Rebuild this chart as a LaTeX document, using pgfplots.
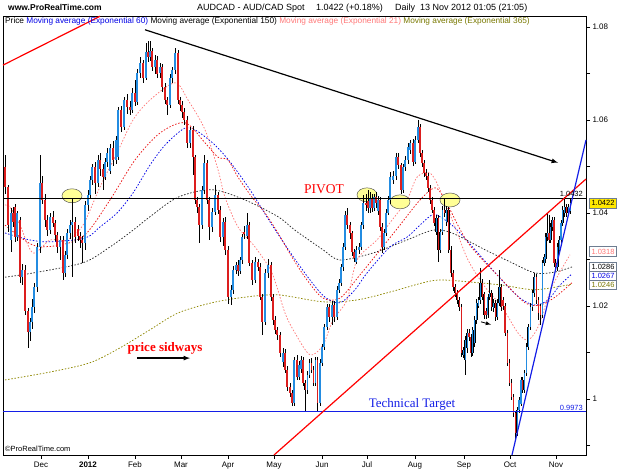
\documentclass[border=0pt]{standalone}
\usepackage{pgfplots}
\pgfplotsset{compat=1.18}
\usepackage{pgfplotstable}
\usepackage{fontspec}
\setmainfont{Liberation Sans}
\newfontfamily\seriffont{Liberation Serif}
\definecolor{cup}{RGB}{35,140,225}
\definecolor{cdn}{RGB}{220,30,30}
\definecolor{ema21}{RGB}{255,120,120}
\definecolor{ema365}{RGB}{120,120,0}
\definecolor{ema60}{RGB}{0,0,230}
\definecolor{ema150}{RGB}{40,40,40}
\definecolor{redma}{RGB}{235,20,20}
\definecolor{lblbox}{RGB}{110,125,145}
\definecolor{ellfill}{RGB}{255,255,150}
\definecolor{tgtblue}{RGB}{20,30,230}
\definecolor{boxyel}{RGB}{255,232,0}

\pgfplotstableread{
x o h l c
11 1.0342 1.0410 1.0316 1.0400
17 1.0348 1.0405 1.0340 1.0400
22 1.0262 1.0290 1.0245 1.0278
30 1.0144 1.0175 1.0125 1.0166
32 1.0166 1.0215 1.0150 1.0198
34 1.0198 1.0250 1.0185 1.0241
37 1.0241 1.0335 1.0230 1.0327
40 1.0327 1.0525 1.0315 1.0465
50 1.0363 1.0400 1.0355 1.0392
60 1.0327 1.0350 1.0300 1.0342
65 1.0271 1.0318 1.0262 1.0310
67 1.0310 1.0365 1.0300 1.0357
70 1.0357 1.0385 1.0345 1.0374
72 1.0374 1.0430 1.0262 1.0381
85 1.0336 1.0425 1.0320 1.0417
88 1.0417 1.0450 1.0405 1.0439
90 1.0439 1.0480 1.0430 1.0471
92 1.0471 1.0505 1.0460 1.0499
98 1.0465 1.0525 1.0455 1.0514
105 1.0477 1.0518 1.0470 1.0510
107 1.0510 1.0540 1.0500 1.0529
110 1.0490 1.0548 1.0485 1.0540
116 1.0514 1.0565 1.0505 1.0557
118 1.0520 1.0628 1.0515 1.0622
124 1.0585 1.0650 1.0578 1.0643
132 1.0622 1.0668 1.0615 1.0658
137 1.0639 1.0710 1.0632 1.0701
140 1.0701 1.0735 1.0690 1.0723
146 1.0690 1.0765 1.0685 1.0746
150 1.0735 1.0770 1.0728 1.0748
155 1.0714 1.0740 1.0700 1.0729
160 1.0700 1.0722 1.0690 1.0714
170 1.0632 1.0698 1.0625 1.0690
172 1.0690 1.0715 1.0680 1.0708
175 1.0708 1.0755 1.0700 1.0744
190 1.0551 1.0585 1.0540 1.0579
202 1.0374 1.0458 1.0365 1.0450
204 1.0450 1.0525 1.0440 1.0508
212 1.0370 1.0410 1.0360 1.0402
215 1.0402 1.0460 1.0395 1.0439
223 1.0348 1.0390 1.0330 1.0381
231 1.0219 1.0245 1.0202 1.0235
233 1.0235 1.0285 1.0225 1.0278
236 1.0278 1.0295 1.0268 1.0288
240 1.0275 1.0305 1.0268 1.0299
242 1.0299 1.0355 1.0290 1.0348
247 1.0350 1.0400 1.0345 1.0374
255 1.0256 1.0305 1.0250 1.0295
265 1.0166 1.0280 1.0160 1.0271
268 1.0271 1.0300 1.0260 1.0288
283 1.0080 1.0110 1.0070 1.0099
294 0.9992 1.0090 0.9985 1.0084
299 1.0047 1.0082 1.0040 1.0073
301 1.0065 1.0092 1.0055 1.0084
307.5 1.0020 1.0060 1.0010 1.0052
309.5 1.0052 1.0085 1.0045 1.0078
315.5 1.0035 1.0090 1.0028 1.0084
320 0.9992 1.0085 0.9985 1.0078
322 1.0078 1.0118 1.0070 1.0112
324 1.0112 1.0162 1.0105 1.0155
327 1.0155 1.0205 1.0148 1.0198
332 1.0176 1.0210 1.0159 1.0202
337 1.0176 1.0242 1.0170 1.0235
339 1.0235 1.0258 1.0228 1.0250
341 1.0250 1.0290 1.0242 1.0284
343 1.0284 1.0335 1.0275 1.0327
345 1.0327 1.0405 1.0320 1.0396
356 1.0295 1.0328 1.0290 1.0321
359 1.0321 1.0335 1.0312 1.0327
361 1.0327 1.0380 1.0320 1.0374
363 1.0374 1.0439 1.0365 1.0422
370 1.0411 1.0445 1.0400 1.0432
374 1.0411 1.0442 1.0405 1.0434
378 1.0405 1.0436 1.0396 1.0428
384 1.0327 1.0365 1.0320 1.0357
386 1.0357 1.0408 1.0350 1.0400
388 1.0400 1.0436 1.0395 1.0428
390 1.0428 1.0488 1.0420 1.0477
393 1.0470 1.0490 1.0462 1.0480
396 1.0480 1.0530 1.0472 1.0520
403 1.0450 1.0505 1.0442 1.0499
405 1.0499 1.0522 1.0490 1.0514
408 1.0514 1.0550 1.0505 1.0542
410 1.0535 1.0558 1.0528 1.0551
415 1.0510 1.0565 1.0505 1.0557
418 1.0557 1.0600 1.0550 1.0585
436.1 1.0360 1.0396 1.0353 1.0389
440.3 1.0321 1.0366 1.0315 1.0359
442.5 1.0359 1.0415 1.0352 1.0407
446.7 1.0380 1.0415 1.0372 1.0407
463.4 1.0095 1.0112 1.0088 1.0106
465.3 1.0084 1.0135 1.0052 1.0127
467.2 1.0110 1.0150 1.0100 1.0142
472.8 1.0099 1.0156 1.0092 1.0149
474.7 1.0120 1.0178 1.0112 1.0170
476.6 1.0170 1.0215 1.0162 1.0207
478.5 1.0200 1.0220 1.0195 1.0213
480.4 1.0213 1.0282 1.0205 1.0250
487.9 1.0181 1.0226 1.0175 1.0219
489.8 1.0219 1.0255 1.0212 1.0228
493.6 1.0195 1.0215 1.0188 1.0207
497.3 1.0176 1.0215 1.0170 1.0207
499.2 1.0207 1.0278 1.0200 1.0241
517.2 0.9927 0.9983 0.9920 0.9977
519 0.9977 1.0005 0.9970 0.9998
521 0.9990 1.0048 0.9985 1.0041
524.5 1.0020 1.0062 1.0012 1.0056
526.5 1.0056 1.0120 1.0050 1.0112
528.3 1.0112 1.0162 1.0105 1.0155
530.5 1.0155 1.0206 1.0148 1.0198
532.5 1.0198 1.0235 1.0190 1.0228
534.3 1.0228 1.0270 1.0220 1.0262
542.5 1.0180 1.0300 1.0175 1.0293
544.2 1.0293 1.0312 1.0285 1.0305
545.8 1.0300 1.0356 1.0292 1.0348
547.4 1.0348 1.0400 1.0340 1.0357
550.6 1.0342 1.0378 1.0335 1.0370
552.3 1.0370 1.0392 1.0362 1.0385
557.6 1.0284 1.0335 1.0276 1.0327
559.3 1.0320 1.0350 1.0312 1.0342
561 1.0342 1.0386 1.0335 1.0379
562.8 1.0379 1.0415 1.0372 1.0407
564.6 1.0400 1.0435 1.0392 1.0413
568.2 1.0400 1.0420 1.0395 1.0413
570.5 1.0405 1.0430 1.0398 1.0422
}\up

\pgfplotstableread{
x o h l c
5 1.0500 1.0525 1.0440 1.0456
8 1.0456 1.0460 1.0360 1.0374
13 1.0400 1.0412 1.0370 1.0381
15 1.0413 1.0420 1.0338 1.0348
20 1.0385 1.0392 1.0250 1.0262
25 1.0278 1.0288 1.0180 1.0190
28 1.0190 1.0195 1.0110 1.0144
42 1.0465 1.0480 1.0420 1.0428
45 1.0428 1.0440 1.0370 1.0385
47 1.0385 1.0395 1.0350 1.0363
53 1.0392 1.0405 1.0370 1.0379
55 1.0379 1.0385 1.0340 1.0353
57 1.0353 1.0360 1.0315 1.0327
63 1.0342 1.0350 1.0256 1.0271
75 1.0381 1.0392 1.0335 1.0348
78 1.0365 1.0375 1.0340 1.0350
80 1.0350 1.0360 1.0325 1.0342
82 1.0342 1.0350 1.0293 1.0336
95 1.0499 1.0510 1.0440 1.0465
100 1.0514 1.0530 1.0480 1.0495
103 1.0495 1.0505 1.0450 1.0477
113 1.0540 1.0555 1.0500 1.0514
121 1.0622 1.0630 1.0575 1.0585
127 1.0643 1.0655 1.0612 1.0628
130 1.0628 1.0640 1.0610 1.0622
135 1.0658 1.0686 1.0630 1.0639
143 1.0723 1.0730 1.0680 1.0690
148 1.0746 1.0770 1.0725 1.0735
152 1.0748 1.0755 1.0705 1.0714
157 1.0729 1.0738 1.0690 1.0700
162 1.0714 1.0720 1.0660 1.0671
165 1.0671 1.0680 1.0635 1.0643
167 1.0643 1.0650 1.0611 1.0632
178 1.0744 1.0750 1.0635 1.0643
180 1.0643 1.0650 1.0620 1.0632
182 1.0632 1.0640 1.0605 1.0617
184 1.0617 1.0625 1.0590 1.0600
187 1.0600 1.0608 1.0540 1.0551
193 1.0579 1.0588 1.0482 1.0520
195 1.0520 1.0525 1.0420 1.0428
197 1.0428 1.0435 1.0400 1.0413
199 1.0413 1.0420 1.0336 1.0374
207 1.0508 1.0515 1.0420 1.0428
209 1.0428 1.0435 1.0342 1.0370
218 1.0439 1.0445 1.0398 1.0407
220 1.0407 1.0415 1.0338 1.0348
225 1.0381 1.0392 1.0310 1.0321
228 1.0321 1.0330 1.0205 1.0219
238 1.0288 1.0298 1.0265 1.0275
244 1.0360 1.0372 1.0345 1.0355
249 1.0374 1.0380 1.0285 1.0293
252 1.0293 1.0300 1.0245 1.0256
258 1.0295 1.0302 1.0275 1.0285
260 1.0285 1.0292 1.0212 1.0219
262 1.0219 1.0225 1.0138 1.0166
271 1.0288 1.0295 1.0210 1.0219
273 1.0219 1.0225 1.0160 1.0170
275 1.0170 1.0178 1.0140 1.0149
277 1.0149 1.0155 1.0128 1.0138
280 1.0138 1.0145 1.0090 1.0099
285 1.0099 1.0108 1.0055 1.0063
287 1.0063 1.0070 1.0018 1.0026
290 1.0026 1.0035 1.0005 1.0013
292 1.0013 1.0020 0.9985 0.9992
297 1.0084 1.0095 1.0040 1.0047
303 1.0084 1.0090 1.0028 1.0035
305.3 1.0035 1.0042 0.9972 1.0020
311.5 1.0078 1.0088 1.0055 1.0063
313.5 1.0063 1.0070 1.0028 1.0035
317.5 1.0084 1.0090 0.9972 0.9992
329 1.0198 1.0205 1.0165 1.0176
334 1.0202 1.0210 1.0165 1.0176
347 1.0396 1.0410 1.0365 1.0374
350 1.0374 1.0380 1.0345 1.0357
352 1.0357 1.0362 1.0308 1.0316
354 1.0316 1.0322 1.0295 1.0303
366 1.0422 1.0440 1.0405 1.0417
368 1.0425 1.0450 1.0400 1.0411
372 1.0432 1.0440 1.0402 1.0411
376 1.0434 1.0445 1.0410 1.0422
380 1.0428 1.0435 1.0362 1.0370
382 1.0370 1.0378 1.0315 1.0327
398 1.0520 1.0528 1.0495 1.0503
401 1.0503 1.0508 1.0440 1.0450
413 1.0551 1.0560 1.0502 1.0510
420 1.0585 1.0592 1.0520 1.0529
422 1.0529 1.0535 1.0500 1.0508
424 1.0508 1.0515 1.0478 1.0486
426 1.0486 1.0495 1.0470 1.0480
428 1.0480 1.0486 1.0445 1.0454
430 1.0454 1.0460 1.0420 1.0428
432 1.0428 1.0435 1.0400 1.0407
434 1.0407 1.0413 1.0372 1.0379
438.2 1.0389 1.0395 1.0295 1.0321
444.6 1.0407 1.0432 1.0392 1.0400
448.8 1.0407 1.0412 1.0315 1.0321
450.9 1.0321 1.0328 1.0262 1.0271
453.0 1.0271 1.0278 1.0232 1.0241
455.2 1.0241 1.0248 1.0220 1.0228
457.3 1.0228 1.0235 1.0205 1.0213
459.4 1.0213 1.0220 1.0190 1.0198
461.5 1.0198 1.0205 1.0090 1.0099
469.0 1.0142 1.0150 1.0125 1.0133
470.9 1.0133 1.0140 1.0090 1.0099
482.2 1.0250 1.0258 1.0212 1.0219
484.1 1.0225 1.0230 1.0172 1.0181
486.0 1.0190 1.0196 1.0172 1.0181
491.7 1.0228 1.0235 1.0190 1.0198
495.5 1.0207 1.0213 1.0168 1.0176
501.1 1.0241 1.0248 1.0190 1.0198
503.0 1.0213 1.0220 1.0192 1.0200
505 1.0200 1.0206 1.0135 1.0142
507.5 1.0142 1.0148 1.0070 1.0078
509.5 1.0078 1.0085 1.0028 1.0035
511.5 1.0035 1.0042 0.9998 1.0005
513.5 1.0005 1.0010 0.9962 0.9970
515.5 0.9970 0.9975 0.9912 0.9927
522.7 1.0041 1.0048 1.0012 1.0020
536.5 1.0262 1.0268 1.0205 1.0213
538.5 1.0213 1.0220 1.0170 1.0185
540.5 1.0200 1.0205 1.0160 1.0180
549 1.0357 1.0395 1.0335 1.0342
554 1.0385 1.0392 1.0285 1.0293
555.8 1.0293 1.0300 1.0275 1.0284
566.4 1.0413 1.0420 1.0392 1.0400
}\dn

\pgfplotsset{
  wick/.style={draw=none, mark=none, forget plot,
    error bars/.cd, y dir=both, y explicit, error mark=none,
    error bar style={draw=black, line width=0.7pt}},
  bodyk/.style={draw=none, mark=none, forget plot,
    error bars/.cd, y dir=both, y explicit, error mark=none,
    error bar style={draw=black, line width=1.9pt, line cap=butt}},
  bodyc/.style={draw=none, mark=none, forget plot,
    error bars/.cd, y dir=both, y explicit, error mark=none,
    error bar style={draw=#1, line width=1.1pt, line cap=butt}},
  ma/.style={#1, line width=0.75pt, dash pattern=on 1.5pt off 1.7pt, smooth, mark=none, forget plot},
}

\begin{document}
\begin{tikzpicture}
\useasboundingbox (0,0) rectangle (625pt,469pt);
\begin{axis}[
  at={(3pt,14pt)}, anchor=south west,
  scale only axis, width=583pt, height=439pt,
  xmin=3, xmax=586, ymin=0.98796, ymax=1.08236,
  clip=false,
  axis line style={line width=0.8pt},
  xtick={41,88,135,181,228,274,322,367,415,464,510,556},
  xticklabels={Dec,\textbf{2012},Feb,Mar,Apr,May,Jun,Jul,Aug,Sep,Oct,Nov},
  xtick pos=left,
  ytick pos=right, yticklabel pos=right,
  ytick={1,1.02,1.04,1.06,1.08},
  yticklabels={1,1.02,1.04,1.06,1.08},
  minor ytick={0.99,1.01,1.03,1.05,1.07},
  tick align=outside,
  major tick length=4pt, minor tick length=4pt,
  tick style={black, line width=0.6pt},
  tick label style={font=\fontsize{8}{9}\selectfont},
  xticklabel style={yshift=1pt},
  yticklabel style={xshift=-1pt},
]
% moving averages
\addplot[ma=olive] coordinates {(5,1.0041) (50,1.0058) (90,1.0078) (120,1.0110) (150,1.0149) (178,1.0185) (212,1.0207) (245,1.0219) (278,1.0224) (323,1.0209) (357,1.0213) (390,1.0230) (423,1.0250) (440,1.0256) (468,1.0252) (502,1.0245) (535,1.0235) (572,1.0247)};
\addplot[ma=ema150] coordinates {(5,1.0262) (33,1.0271) (83,1.0293) (110,1.0327) (133,1.0363) (150,1.0392) (178,1.0434) (212,1.0450) (245,1.0428) (278,1.0392) (295,1.0363) (323,1.0321) (340,1.0299) (373,1.0314) (407,1.0342) (433,1.0363) (452,1.0357) (485,1.0321) (510,1.0295) (535,1.0271) (555,1.0273) (572,1.0284)};
\addplot[ma=ema60] coordinates {(5,1.0357) (30,1.0342) (50,1.0338) (85,1.0346) (100,1.0370) (117,1.0400) (133,1.0443) (150,1.0503) (165,1.0546) (182,1.0579) (190,1.0583) (200,1.0572) (215,1.0546) (230,1.0510) (250,1.0450) (270,1.0381) (290,1.0316) (310,1.0256) (325,1.0219) (340,1.0207) (355,1.0235) (367,1.0271) (390,1.0327) (407,1.0348) (420,1.0374) (432,1.0396) (440,1.0392) (455,1.0368) (475,1.0321) (500,1.0260) (520,1.0217) (535,1.0202) (548,1.0213) (560,1.0245) (572,1.0269)};
\addplot[ma=redma] coordinates {(5,1.0374) (33,1.0331) (60,1.0331) (85,1.0353) (110,1.0428) (135,1.0514) (160,1.0572) (185,1.0594) (205,1.0551) (218,1.0520) (228,1.0514) (238,1.0477) (252,1.0434) (265,1.0400) (278,1.0357) (292,1.0305) (307,1.0256) (323,1.0217) (340,1.0217) (360,1.0267) (380,1.0320) (400,1.0374) (420,1.0428) (435,1.0454) (445,1.0428) (468,1.0336) (502,1.0256) (525,1.0207) (540,1.0202) (555,1.0219) (572,1.0250)};
\addplot[ma=ema21] coordinates {(5,1.0417) (10,1.0413) (20,1.0374) (33,1.0314) (50,1.0342) (67,1.0342) (83,1.0374) (100,1.0456) (117,1.0529) (133,1.0600) (150,1.0643) (175,1.0680) (188,1.0643) (205,1.0579) (218,1.0493) (225,1.0434) (238,1.0370) (255,1.0327) (272,1.0271) (285,1.0185) (295,1.0142) (310,1.0095) (323,1.0116) (333,1.0170) (347,1.0213) (357,1.0299) (377,1.0342) (390,1.0379) (407,1.0428) (417,1.0477) (430,1.0486) (440,1.0450) (455,1.0370) (468,1.0299) (485,1.0241) (502,1.0198) (518,1.0142) (528,1.0127) (538,1.0155) (552,1.0241) (570,1.0310)};

% ellipses
\filldraw[fill=ellfill, draw=black!65, line width=0.5pt] (axis cs:72,1.0437) ellipse [x radius=10pt, y radius=7pt];
\filldraw[fill=ellfill, draw=black!65, line width=0.5pt] (axis cs:367,1.0439) ellipse [x radius=10pt, y radius=7pt];
\filldraw[fill=ellfill, draw=black!65, line width=0.5pt] (axis cs:400,1.0424) ellipse [x radius=10pt, y radius=7pt];
\filldraw[fill=ellfill, draw=black!65, line width=0.5pt] (axis cs:450,1.0428) ellipse [x radius=10pt, y radius=7pt];

% candles
\addplot[wick] table[x=x, y expr={(\thisrow{h}+\thisrow{l})/2}, y error expr={(\thisrow{h}-\thisrow{l})/2}] \up;
\addplot[wick] table[x=x, y expr={(\thisrow{h}+\thisrow{l})/2}, y error expr={(\thisrow{h}-\thisrow{l})/2}] \dn;
\addplot[bodyk] table[x=x, y expr={(\thisrow{o}+\thisrow{c})/2}, y error expr={abs(\thisrow{c}-\thisrow{o})/2}] \up;
\addplot[bodyk] table[x=x, y expr={(\thisrow{o}+\thisrow{c})/2}, y error expr={abs(\thisrow{c}-\thisrow{o})/2}] \dn;
\addplot[bodyc=cup] table[x=x, y expr={(\thisrow{o}+\thisrow{c})/2}, y error expr={abs(\thisrow{c}-\thisrow{o})/2}] \up;
\addplot[bodyc=cdn] table[x=x, y expr={(\thisrow{o}+\thisrow{c})/2}, y error expr={abs(\thisrow{c}-\thisrow{o})/2}] \dn;

% horizontal levels
\addplot[black, line width=0.8pt, forget plot] coordinates {(3,1.0432) (586,1.0432)};
\addplot[tgtblue, line width=0.8pt, forget plot] coordinates {(3,0.9973) (586,0.9973)};

% trend lines
\addplot[red, line width=1.2pt, forget plot] coordinates {(3,1.0718) (100,1.0823)};
\addplot[red, line width=1.2pt, forget plot] coordinates {(274,0.98796) (586,1.0473)};
\addplot[tgtblue, line width=1.2pt, forget plot] coordinates {(512,0.98796) (586,1.0557)};
\addplot[black, line width=1.2pt, -latex, forget plot] coordinates {(145,1.0794) (558,1.0508)};
\addplot[black, line width=1.2pt, -latex, forget plot] coordinates {(137,1.0088) (190,1.0088)};
\addplot[black, line width=0.8pt, -latex, forget plot] coordinates {(481,1.0166) (491,1.0160)};

% annotations
\node[font=\seriffont\fontsize{13.5}{15}\selectfont, text=red] at (axis cs:324,1.0452) {PIVOT};
\node[font=\seriffont\bfseries\fontsize{13}{15}\selectfont, text=red] at (axis cs:165,1.0108) {price sidways};
\node[font=\seriffont\fontsize{13}{15}\selectfont, text=tgtblue] at (axis cs:412,0.9988) {Technical Target};
\node[font=\fontsize{7.5}{8}\selectfont, anchor=south east, inner sep=1pt] at (axis cs:584,1.0432) {1.0432};
\node[font=\fontsize{7.5}{8}\selectfont, anchor=south east, inner sep=1pt, text=tgtblue] at (axis cs:584,0.9973) {0.9973};

% right-side value boxes
\node[draw=lblbox, fill=boxyel, font=\fontsize{7.5}{8}\selectfont, minimum width=27pt, minimum height=10pt, inner sep=0.5pt] at (axis cs:603,1.0422) {1.0422};
\node[draw=lblbox, fill=white, text=ema21, font=\fontsize{7.5}{8}\selectfont, minimum width=27pt, minimum height=10pt, inner sep=0.5pt] at (axis cs:603,1.03172) {1.0318};
\node[draw=lblbox, fill=white, text=black, font=\fontsize{7.5}{8}\selectfont, minimum width=27pt, minimum height=9pt, inner sep=0.5pt] at (axis cs:603,1.02849) {1.0286};
\node[draw=lblbox, fill=white, text=ema60, font=\fontsize{7.5}{8}\selectfont, minimum width=27pt, minimum height=9pt, inner sep=0.5pt] at (axis cs:603,1.02656) {1.0267};
\node[draw=lblbox, fill=white, text=ema365, font=\fontsize{7.5}{8}\selectfont, minimum width=27pt, minimum height=9pt, inner sep=0.5pt] at (axis cs:603,1.02462) {1.0246};
\end{axis}

% header
\node[anchor=base west, inner sep=0pt, font=\bfseries\fontsize{8.5}{10}\selectfont] at (8pt,458pt) {www.ProRealTime.com};
\node[anchor=base west, inner sep=0pt, font=\fontsize{9}{10}\selectfont] at (197pt,458pt) {AUDCAD - AUD/CAD Spot};
\node[anchor=base west, inner sep=0pt, font=\fontsize{9}{10}\selectfont] at (316pt,458pt) {1.0422 (+0.18\%)};
\node[anchor=base west, inner sep=0pt, font=\fontsize{9}{10}\selectfont] at (395pt,458pt) {Daily\ \ 13 Nov 2012 01:05 (21:05)};
% legend line
\node[anchor=base west, inner sep=0pt, font=\fontsize{8.3}{9}\selectfont] at (5pt,445pt) {Price \textcolor{ema60}{Moving average (Exponential 60)} Moving average (Exponential 150) \textcolor{ema21}{Moving average (Exponential 21)} \textcolor{ema365}{Moving average (Exponential 365)}};
% copyright
\node[anchor=base west, inner sep=0pt, font=\fontsize{7.5}{8}\selectfont] at (5pt,17pt) {\textcopyright ProRealTime.com};
\end{tikzpicture}
\end{document}
